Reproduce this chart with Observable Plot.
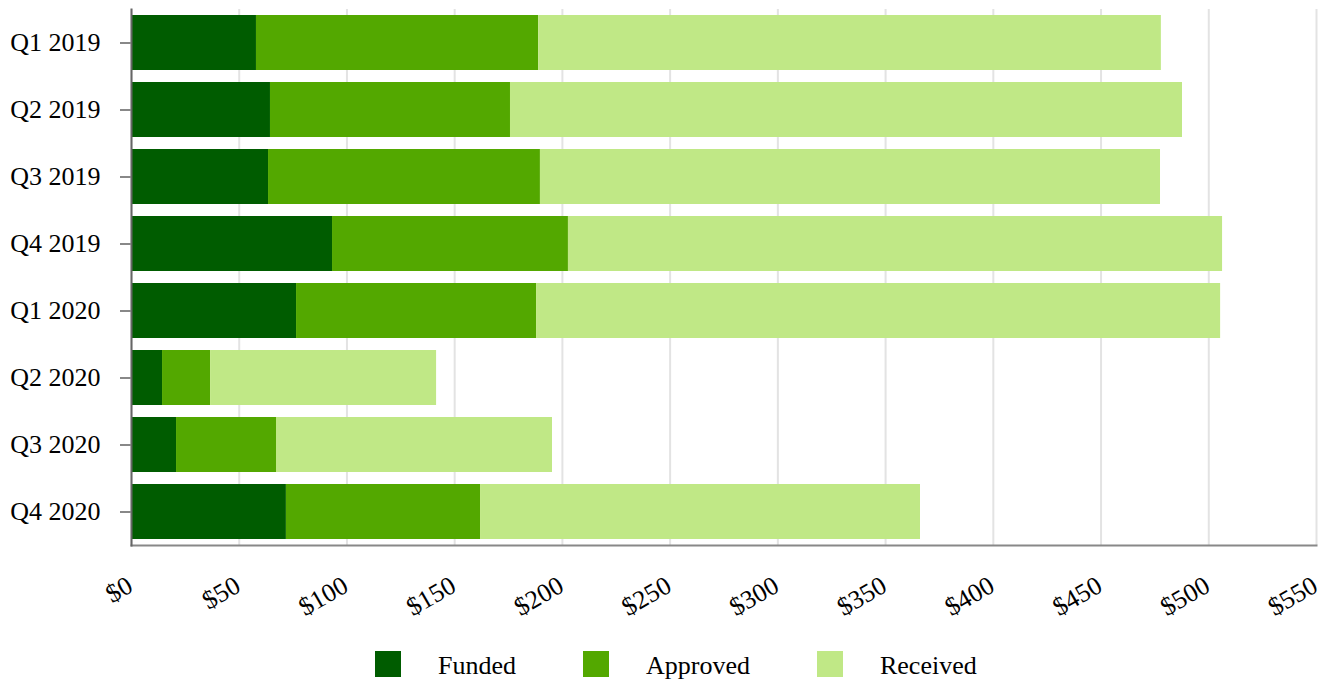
<!DOCTYPE html>
<html>
<head>
<meta charset="utf-8">
<script src="https://cdn.jsdelivr.net/npm/d3@7"></script>
<script src="https://cdn.jsdelivr.net/npm/@observablehq/plot@0.6"></script>
<style>
  html, body { margin: 0; padding: 0; background: #fff; }
  body { width: 1327px; height: 679px; position: relative; overflow: hidden; font-family: "Liberation Serif", "Times New Roman", serif; }
  #legend { position: absolute; left: 375px; top: 651px; display: flex; align-items: center; font-size: 26px; line-height: 26px; color: #000; }
  .item { display: flex; align-items: center; margin-right: 67px; }
  .item span { position: relative; top: 2px; }
  .sw { width: 26px; height: 26px; margin-right: 37px; }
</style>
</head>
<body>
<div id="chart"></div>
<div id="legend"></div>
<script>
const quarters = ["Q1 2019", "Q2 2019", "Q3 2019", "Q4 2019", "Q1 2020", "Q2 2020", "Q3 2020", "Q4 2020"];
const seriesNames = ["Funded", "Approved", "Received"];
const seriesColors = ["#005c00", "#53a800", "#c0e886"];
const funded   = [58.0, 64.5, 63.6, 93.3, 76.6, 14.4, 20.9, 71.9];
const approved = [131.0, 111.4, 126.2, 109.5, 111.4, 22.3, 46.4, 90.1];
const received = [289.0, 311.9, 287.8, 303.6, 317.5, 104.9, 128.1, 204.2];
const xTicks = [0, 50, 100, 150, 200, 250, 300, 350, 400, 450, 500, 550];

const seriesValues = [funded, approved, received];
const rows = [];
seriesNames.forEach((s, si) => {
  quarters.forEach((q, qi) => rows.push({quarter: q, series: s, value: seriesValues[si][qi]}));
});

const W = 1327, H = 630;
const chart = Plot.plot({
  width: W,
  height: H,
  marginLeft: 131,
  marginRight: 11,
  marginTop: 9,
  marginBottom: H - 545,
  style: {fontFamily: "'Liberation Serif', 'Times New Roman', serif", background: "#fff", color: "#000"},
  x: {domain: [0, 550], axis: null},
  y: {domain: quarters, paddingInner: 0.18, paddingOuter: 0.09, axis: null},
  color: {domain: seriesNames, range: seriesColors},
  marks: [
    Plot.gridX(xTicks, {stroke: "#e3e3e3", strokeOpacity: 1, strokeWidth: 2}),
    Plot.barX(rows, Plot.stackX({y: "quarter", x: "value", fill: "series", order: seriesNames})),
    Plot.frame({anchor: "bottom", stroke: "#888", strokeWidth: 2}),
    Plot.frame({anchor: "left", stroke: "#666", strokeWidth: 2}),
    Plot.axisY({label: null, tickSize: 11, tickPadding: 20, fontSize: 26, stroke: "#888", strokeWidth: 2, fill: "#000"}),
    Plot.text(xTicks, {x: d => d, frameAnchor: "bottom", text: d => "$" + d, rotate: -30, textAnchor: "end", dx: 3, dy: 45, fontSize: 26, fill: "#000"})
  ]
});
document.getElementById("chart").appendChild(chart);

const legend = document.getElementById("legend");
seriesNames.forEach((s, i) => {
  const item = document.createElement("div");
  item.className = "item";
  const sw = document.createElement("div");
  sw.className = "sw";
  sw.style.background = seriesColors[i];
  const label = document.createElement("span");
  label.textContent = s;
  item.appendChild(sw);
  item.appendChild(label);
  legend.appendChild(item);
});
</script>
</body>
</html>
